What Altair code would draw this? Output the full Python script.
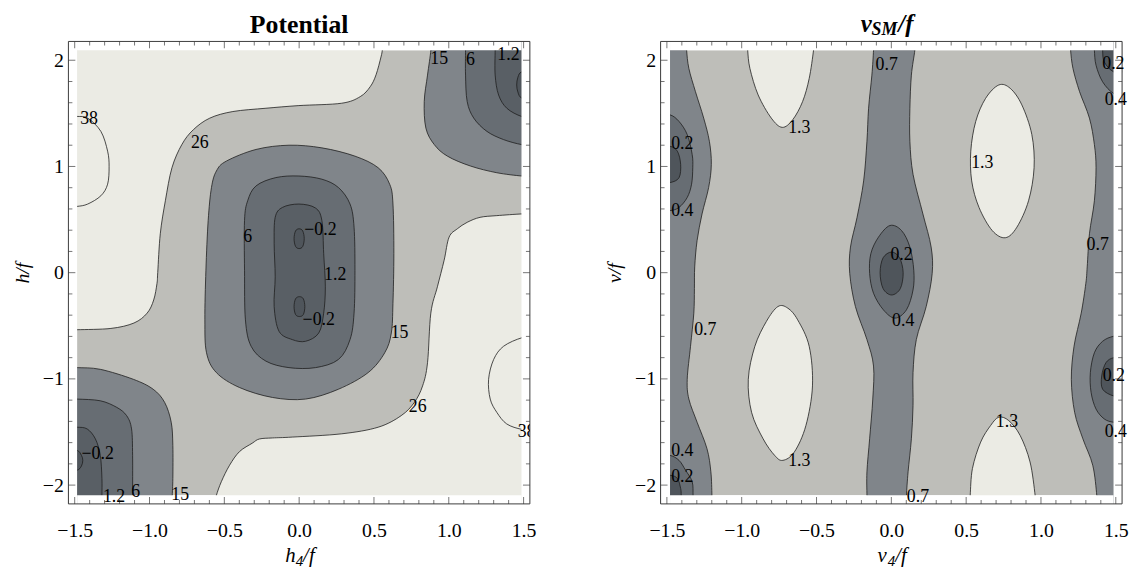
import altair as alt
import pandas as pd

# ---------------- frame / ranges ----------------
W, H = 466, 467
FRAME_X = [-1.542, 1.542]
FRAME_Y = [-2.177, 2.177]
L_COLOR_X = [-1.484, 1.486]
R_COLOR_X = [-1.479, 1.485]
COLOR_Y = [-2.096, 2.094]

X_MAJOR = [-1.5, -1.0, -0.5, 0.0, 0.5, 1.0, 1.5]
X_MINOR = [-1.4, -1.3, -1.2, -1.1, -0.9, -0.8, -0.7, -0.6, -0.4, -0.3, -0.2, -0.1,
           0.1, 0.2, 0.3, 0.4, 0.6, 0.7, 0.8, 0.9, 1.1, 1.2, 1.3, 1.4]
Y_MAJOR = [-2, -1, 0, 1, 2]
Y_MINOR = [-1.8, -1.6, -1.4, -1.2, -0.8, -0.6, -0.4, -0.2,
           0.2, 0.4, 0.6, 0.8, 1.2, 1.4, 1.6, 1.8]

LIGHTEST = "#ebebe4"
LIGHT = "#bebeb9"
MEDIUM = "#80858a"
DARK = "#676d73"
DARKER = "#595f65"
DARKEST = "#4f555b"
LINE = "#1e1e1e"
FRAME_C = "#3c3c3c"
FONT = "Liberation Serif"

# ---------------- Potential panel: contour regions (x = h4/f, y = h/f) ----------------
L_GT26_UL = [(-1.65, -0.54), (-1.56, -0.538), (-1.484, -0.537), (-1.258, -0.525), (-1.104, -0.474),
             (-1.016, -0.381), (-0.972, -0.257), (-0.950, -0.101), (-0.945, 0.002), (-0.928, 0.366),
             (-0.894, 0.677), (-0.850, 0.988), (-0.784, 1.206), (-0.707, 1.346), (-0.597, 1.455),
             (-0.443, 1.517), (-0.222, 1.548), (-0.002, 1.573), (0.283, 1.595), (0.408, 1.657),
             (0.475, 1.751), (0.514, 1.863), (0.547, 2.031), (0.556, 2.094), (0.565, 2.18),
             (0.57, 2.3), (-1.65, 2.3)]
L_GT26_LR = [(1.65, 0.556), (1.56, 0.555), (1.486, 0.553), (1.321, 0.537), (1.209, 0.521),
             (1.123, 0.474), (1.057, 0.413), (1.002, 0.334), (0.969, 0.117), (0.924, -0.133),
             (0.880, -0.381), (0.858, -0.848), (0.825, -1.066), (0.770, -1.221), (0.682, -1.346),
             (0.528, -1.455), (0.285, -1.517), (-0.046, -1.548), (-0.178, -1.556), (-0.266, -1.566),
             (-0.313, -1.605), (-0.399, -1.685), (-0.465, -1.813), (-0.520, -1.968), (-0.553, -2.096),
             (-0.565, -2.18), (-0.57, -2.3), (1.65, -2.3)]
L_C38_UL = [(-1.65, 1.48), (-1.56, 1.475), (-1.484, 1.471), (-1.413, 1.455), (-1.325, 1.330),
            (-1.280, 1.144), (-1.270, 0.997), (-1.280, 0.833), (-1.325, 0.724), (-1.413, 0.646),
            (-1.484, 0.624), (-1.56, 0.62), (-1.65, 0.615)]
L_C38_LR = [(1.65, -0.605), (1.56, -0.61), (1.486, -0.614), (1.366, -0.693), (1.300, -0.817),
            (1.266, -1.004), (1.277, -1.190), (1.321, -1.315), (1.387, -1.424), (1.486, -1.475),
            (1.56, -1.48), (1.65, -1.49)]

L_LE15_C = [(-0.487, 1.050), (-0.288, 1.160), (-0.068, 1.200), (0.152, 1.175), (0.373, 1.097),
            (0.528, 0.988), (0.605, 0.833), (0.627, 0.646), (0.633, 0.179), (0.627, -0.288),
            (0.616, -0.568), (0.572, -0.754), (0.461, -0.941), (0.263, -1.097), (0.043, -1.190),
            (-0.178, -1.175), (-0.399, -1.081), (-0.553, -0.941), (-0.619, -0.754), (-0.630, -0.444),
            (-0.623, 0.023), (-0.608, 0.490), (-0.586, 0.801), (-0.553, 0.957)]
L_LE15_TR = [(0.87, 2.3), (0.875, 2.18), (0.880, 2.094), (0.858, 1.860), (0.836, 1.611),
             (0.847, 1.361), (0.903, 1.206), (0.991, 1.097), (1.145, 1.004), (1.321, 0.941),
             (1.486, 0.910), (1.56, 0.905), (1.65, 0.90), (1.65, 2.3)]
L_LE15_BL = [(-1.65, -0.89), (-1.56, -0.892), (-1.484, -0.894), (-1.329, -0.910), (-1.108, -1.004),
             (-0.976, -1.097), (-0.899, -1.221), (-0.855, -1.408), (-0.844, -1.627), (-0.844, -1.937),
             (-0.848, -2.096), (-0.85, -2.18), (-0.85, -2.3), (-1.65, -2.3)]

L_LE6_C = [(-0.288, 0.817), (-0.156, 0.895), (-0.002, 0.910), (0.152, 0.880), (0.263, 0.801),
           (0.340, 0.646), (0.367, 0.428), (0.373, 0.023), (0.367, -0.381), (0.340, -0.630),
           (0.263, -0.817), (0.109, -0.894), (-0.068, -0.894), (-0.222, -0.833), (-0.321, -0.693),
           (-0.359, -0.444), (-0.365, 0.023), (-0.365, 0.490), (-0.344, 0.677)]
L_LE6_TR = [(1.112, 2.3), (1.112, 2.18), (1.112, 2.094), (1.112, 1.860), (1.123, 1.611),
            (1.167, 1.455), (1.255, 1.330), (1.366, 1.253), (1.486, 1.206), (1.56, 1.2),
            (1.65, 1.195), (1.65, 2.3)]
L_LE6_BL = [(-1.65, -1.185), (-1.56, -1.188), (-1.484, -1.190), (-1.329, -1.206), (-1.219, -1.268),
            (-1.153, -1.346), (-1.120, -1.471), (-1.113, -1.720), (-1.113, -2.096), (-1.113, -2.18),
            (-1.113, -2.3), (-1.65, -2.3)]

L_LE12_C = [(-0.112, 0.614), (-0.002, 0.646), (0.109, 0.609), (0.152, 0.490), (0.164, 0.179),
            (0.175, -0.133), (0.164, -0.381), (0.131, -0.568), (0.043, -0.646), (-0.046, -0.630),
            (-0.134, -0.553), (-0.167, -0.319), (-0.160, -0.039), (-0.167, 0.273), (-0.160, 0.521)]
L_LE12_TR = [(1.31, 2.3), (1.31, 2.18), (1.31, 2.094), (1.310, 1.860), (1.333, 1.673),
             (1.388, 1.548), (1.486, 1.471), (1.56, 1.465), (1.65, 1.46), (1.65, 2.3)]
L_LE12_BL = [(-1.65, -1.45), (-1.56, -1.452), (-1.484, -1.455), (-1.417, -1.471), (-1.362, -1.564),
             (-1.329, -1.720), (-1.318, -1.937), (-1.318, -2.096), (-1.318, -2.18), (-1.318, -2.3),
             (-1.65, -2.3)]

L_LEM02_A = [(0.0, 0.413), (0.024, 0.393), (0.034, 0.32), (0.024, 0.247), (0.0, 0.227),
             (-0.024, 0.247), (-0.034, 0.32), (-0.024, 0.393)]
L_LEM02_B = [(0.002, -0.226), (0.028, -0.246), (0.038, -0.32), (0.028, -0.394), (0.002, -0.413),
             (-0.024, -0.394), (-0.034, -0.32), (-0.024, -0.246)]
L_LEM02_TR = [(1.65, 1.90), (1.56, 1.895), (1.486, 1.89), (1.462, 1.84), (1.454, 1.767),
              (1.462, 1.70), (1.486, 1.645), (1.56, 1.64), (1.65, 1.635)]
L_LEM02_BL = [(-1.65, -1.665), (-1.56, -1.67), (-1.484, -1.673), (-1.455, -1.72), (-1.446, -1.767),
              (-1.455, -1.82), (-1.484, -1.860), (-1.56, -1.865), (-1.65, -1.87)]

L_LABEL_TEXT = ["38", "26", "6", "\u22120.2", "1.2", "\u22120.2", "15", "26", "38",
                "15", "6", "1.2", "\u22120.2", "1.2", "6", "15"]
L_LABEL_X = [-1.404, -0.664, -0.344, 0.142, 0.241, 0.131, 0.671, 0.792, 1.52,
             0.936, 1.145, 1.399, -1.346, -1.237, -1.093, -0.795]
L_LABEL_Y = [1.442, 1.218, 0.334, 0.397, -0.023, -0.444, -0.568, -1.268, -1.501,
             2.015, 2.0, 2.047, -1.704, -2.108, -2.062, -2.093]

# ---------------- v_SM/f panel: contour regions (x = v4/f, y = v/f) ----------------
R_GT13_TOP = [(-0.965, 2.3), (-0.962, 2.18), (-0.960, 2.094), (-0.945, 1.922), (-0.890, 1.673),
              (-0.802, 1.455), (-0.729, 1.368), (-0.659, 1.440), (-0.593, 1.611), (-0.549, 1.828),
              (-0.520, 2.094), (-0.518, 2.18), (-0.515, 2.3)]
R_GT13_MID = [(0.718, 1.767), (0.630, 1.641), (0.564, 1.424), (0.531, 1.144), (0.537, 0.864),
              (0.586, 0.614), (0.674, 0.397), (0.762, 0.329), (0.839, 0.428), (0.917, 0.677),
              (0.954, 0.988), (0.939, 1.300), (0.872, 1.580), (0.795, 1.735)]
R_GT13_LL = [(-0.758, -0.319), (-0.835, -0.459), (-0.912, -0.693), (-0.956, -1.004), (-0.934, -1.315),
             (-0.857, -1.564), (-0.780, -1.720), (-0.725, -1.767), (-0.648, -1.688), (-0.571, -1.440),
             (-0.527, -1.066), (-0.549, -0.693), (-0.626, -0.444), (-0.692, -0.334)]
R_GT13_BOT = [(0.52, -2.3), (0.523, -2.18), (0.527, -2.096), (0.542, -1.844), (0.597, -1.595),
              (0.663, -1.440), (0.718, -1.361), (0.785, -1.393), (0.861, -1.533), (0.927, -1.782),
              (0.961, -2.096), (0.962, -2.18), (0.965, -2.3)]

R_LE07_L = [(-1.368, 2.3), (-1.368, 2.18), (-1.368, 2.094), (-1.353, 1.922), (-1.309, 1.704),
            (-1.254, 1.455), (-1.216, 1.237), (-1.203, 1.020), (-1.221, 0.801), (-1.265, 0.553),
            (-1.298, 0.303), (-1.314, 0.054), (-1.316, -0.15), (-1.320, -0.381), (-1.342, -0.693),
            (-1.364, -1.004), (-1.353, -1.190), (-1.298, -1.408), (-1.232, -1.657), (-1.206, -1.875),
            (-1.199, -2.096), (-1.199, -2.18), (-1.199, -2.3), (-1.65, -2.3), (-1.65, 2.3)]
R_LE07_C = [(-0.119, 2.3), (-0.119, 2.18), (-0.119, 2.094), (-0.130, 1.860), (-0.152, 1.548),
            (-0.163, 1.237), (-0.185, 0.864), (-0.229, 0.521), (-0.273, 0.241), (-0.278, -0.007),
            (-0.240, -0.319), (-0.163, -0.630), (-0.119, -0.879), (-0.124, -1.190), (-0.145, -1.564),
            (-0.163, -1.875), (-0.163, -2.096), (-0.163, -2.18), (-0.163, -2.3), (0.101, -2.3),
            (0.101, -2.18), (0.101, -2.096), (0.112, -1.875), (0.134, -1.564), (0.145, -1.253),
            (0.145, -0.941), (0.167, -0.630), (0.233, -0.319), (0.273, -0.007), (0.266, 0.241),
            (0.211, 0.553), (0.145, 0.926), (0.124, 1.237), (0.124, 1.548), (0.134, 1.860),
            (0.157, 2.094), (0.157, 2.18), (0.157, 2.3)]
R_LE07_R = [(1.198, 2.3), (1.198, 2.18), (1.198, 2.094), (1.214, 1.922), (1.258, 1.704),
            (1.324, 1.455), (1.357, 1.206), (1.368, 0.988), (1.357, 0.677), (1.324, 0.366),
            (1.309, 0.054), (1.300, -0.1), (1.269, -0.381), (1.221, -0.693), (1.203, -1.004),
            (1.225, -1.315), (1.280, -1.564), (1.346, -1.813), (1.373, -2.096), (1.373, -2.18),
            (1.373, -2.3), (1.65, -2.3), (1.65, 2.3)]

R_LE04_L = [(-1.65, 1.49), (-1.56, 1.488), (-1.479, 1.486), (-1.419, 1.424), (-1.364, 1.300),
            (-1.331, 1.113), (-1.327, 0.988), (-1.335, 0.833), (-1.364, 0.708), (-1.419, 0.614),
            (-1.479, 0.584), (-1.56, 0.582), (-1.65, 0.58)]
R_LE04_C = [(-0.009, 0.444), (-0.086, 0.334), (-0.137, 0.179), (-0.145, -0.007), (-0.119, -0.194),
            (-0.053, -0.350), (0.024, -0.428), (0.101, -0.350), (0.145, -0.163), (0.150, 0.023),
            (0.124, 0.241), (0.068, 0.397)]
R_LE04_R = [(1.65, -0.595), (1.56, -0.597), (1.485, -0.599), (1.412, -0.646), (1.357, -0.754),
            (1.330, -0.941), (1.335, -1.128), (1.368, -1.284), (1.423, -1.377), (1.485, -1.408),
            (1.56, -1.41), (1.65, -1.412)]
R_LE04_TR = [(1.357, 2.3), (1.357, 2.18), (1.357, 2.094), (1.368, 1.953), (1.412, 1.797),
             (1.485, 1.688), (1.56, 1.68), (1.65, 1.675), (1.65, 2.3)]
R_LE04_BL = [(-1.65, -1.715), (-1.56, -1.718), (-1.479, -1.720), (-1.419, -1.767), (-1.375, -1.860),
             (-1.331, -1.968), (-1.325, -2.096), (-1.325, -2.18), (-1.325, -2.3), (-1.65, -2.3)]

R_LE02_L = [(-1.65, 1.19), (-1.56, 1.19), (-1.479, 1.190), (-1.430, 1.144), (-1.408, 1.020),
            (-1.419, 0.894), (-1.479, 0.848), (-1.56, 0.848), (-1.65, 0.848)]
R_LE02_C = [(0.002, 0.194), (0.055, 0.14), (0.079, 0.0), (0.06, -0.15), (0.002, -0.21),
            (-0.055, -0.15), (-0.075, 0.0), (-0.055, 0.14)]
R_LE02_R = [(1.65, -0.80), (1.56, -0.80), (1.485, -0.801), (1.434, -0.848), (1.406, -0.973),
            (1.412, -1.097), (1.485, -1.160), (1.56, -1.16), (1.65, -1.16)]
R_LE02_TR = [(1.412, 2.3), (1.412, 2.18), (1.412, 2.094), (1.423, 1.984), (1.485, 1.891),
             (1.56, 1.89), (1.65, 1.89), (1.65, 2.3)]
R_LE02_BL = [(-1.65, -1.905), (-1.56, -1.906), (-1.479, -1.907), (-1.430, -1.937), (-1.408, -2.031),
             (-1.404, -2.096), (-1.404, -2.18), (-1.404, -2.3), (-1.65, -2.3)]

R_LABEL_TEXT = ["0.7", "1.3", "0.2", "0.4", "1.3", "0.2", "0.4", "0.7", "0.2", "0.4",
                "0.7", "1.3", "0.4", "0.2", "1.3", "0.2", "0.4", "0.7"]
R_LABEL_X = [-0.031, -0.615, -1.397, -1.397, 0.608, 1.484, 1.50, 1.379, 0.068, 0.079,
             -1.243, -0.615, -1.397, -1.397, 0.773, 1.487, 1.50, 0.178]
R_LABEL_Y = [1.953, 1.361, 1.212, 0.584, 1.035, 1.968, 1.627, 0.257, 0.163, -0.459,
             -0.537, -1.776, -1.679, -1.922, -1.408, -0.973, -1.501, -2.108]


def poly_df(polys):
    rows = []
    for pid, pts in enumerate(polys):
        for i, (x, y) in enumerate(pts):
            rows.append({"pid": pid, "i": i, "x": x, "y": y})
    return pd.DataFrame(rows)


def text_piece(txt, px, py, size, weight, style, align="left"):
    return (alt.Chart(pd.DataFrame({"t": [txt]}))
            .mark_text(font=FONT, fontSize=size, fontWeight=weight, fontStyle=style,
                       align=align, baseline="alphabetic", color="black")
            .encode(x=alt.value(px), y=alt.value(py), text="t:N"))


def panel(regions, lab_t, lab_x, lab_y, color_x, xvar, ytitle, title_parts, clip_labels):
    xs = alt.Scale(domain=FRAME_X, nice=False, zero=False)
    ys = alt.Scale(domain=FRAME_Y, nice=False, zero=False)
    xax = alt.Axis(values=X_MAJOR, format=".1f", labelExpr="replace(datum.label, '-', '\u2212')",
                   ticks=False, domain=False, grid=False, labelFont=FONT, labelFontSize=20,
                   labelColor="black", labelPadding=17, labelFlush=False, labelOverlap=False,
                   title="")
    yax = alt.Axis(values=Y_MAJOR, format="d", labelExpr="replace(datum.label, '-', '\u2212')",
                   ticks=False, domain=False, grid=False, labelFont=FONT, labelFontSize=20,
                   labelColor="black", labelPadding=5, labelFlush=False, labelOverlap=False,
                   title=ytitle, titleFont=FONT, titleFontStyle="italic", titleFontWeight="normal",
                   titleFontSize=20, titleColor="black", titlePadding=10)
    X = alt.X("x:Q", scale=xs, axis=xax)
    Y = alt.Y("y:Q", scale=ys, axis=yax)

    layers = []
    bg = pd.DataFrame({"x": [color_x[0]], "x2": [color_x[1]], "y": [COLOR_Y[0]], "y2": [COLOR_Y[1]]})
    layers.append(alt.Chart(bg).mark_rect(fill=LIGHT).encode(x=X, x2="x2:Q", y=Y, y2="y2:Q"))

    for shade, polys in regions:
        layers.append(
            alt.Chart(poly_df(polys))
            .mark_line(interpolate="cardinal-closed", fill=shade, stroke=LINE,
                       strokeWidth=0.8, clip=True)
            .encode(x=X, y=Y, detail="pid:N", order="i:Q")
        )

    masks = pd.DataFrame({
        "x": [FRAME_X[0], color_x[1], color_x[0], color_x[0]],
        "x2": [color_x[0], FRAME_X[1], color_x[1], color_x[1]],
        "y": [FRAME_Y[0], FRAME_Y[0], FRAME_Y[0], COLOR_Y[1]],
        "y2": [FRAME_Y[1], FRAME_Y[1], COLOR_Y[0], FRAME_Y[1]],
    })
    layers.append(alt.Chart(masks).mark_rect(fill="white").encode(x=X, x2="x2:Q", y=Y, y2="y2:Q"))

    # frame ticks (inward)
    for vals, ln in ((X_MAJOR, 7), (X_MINOR, 4)):
        d = pd.DataFrame({"x": vals})
        for ypos in (H - ln / 2, ln / 2):
            layers.append(alt.Chart(d).mark_tick(orient="vertical", size=ln, thickness=1, color=FRAME_C)
                          .encode(x=X, y=alt.value(ypos)))
    for vals, ln in ((Y_MAJOR, 7), (Y_MINOR, 4)):
        d = pd.DataFrame({"y": vals})
        for xpos in (ln / 2, W - ln / 2):
            layers.append(alt.Chart(d).mark_tick(orient="horizontal", size=ln, thickness=1, color=FRAME_C)
                          .encode(y=Y, x=alt.value(xpos)))

    fr = pd.DataFrame({"x": [FRAME_X[0]], "x2": [FRAME_X[1]], "y": [FRAME_Y[0]], "y2": [FRAME_Y[1]]})
    layers.append(alt.Chart(fr).mark_rect(fill="transparent", stroke=FRAME_C, strokeWidth=1)
                  .encode(x=X, x2="x2:Q", y=Y, y2="y2:Q"))

    labs = pd.DataFrame({"x": lab_x, "y": lab_y, "t": lab_t})
    if clip_labels:
        tmark = alt.Chart(labs).mark_text(font=FONT, fontSize=18, color="black", clip=True)
    else:
        tmark = alt.Chart(labs).mark_text(font=FONT, fontSize=18, color="black")
    layers.append(tmark.encode(x=X, y=Y, text="t:N"))

    # panel title
    for txt, px, py, size, style in title_parts:
        layers.append(text_piece(txt, px, py, size, "bold", style,
                                 align="center" if style == "normal" else "left"))

    # x-axis title  (x4 / f with subscript 4)
    base_y = H + 59
    layers.append(text_piece(xvar, 219, base_y, 21, "normal", "italic"))
    layers.append(text_piece("4", 229.5, base_y + 4, 15, "normal", "italic"))
    layers.append(text_piece("/f", 237, base_y, 21, "normal", "italic"))

    return alt.layer(*layers).properties(width=W, height=H)


left_regions = [
    (LIGHTEST, [L_GT26_UL, L_GT26_LR]),
    (LIGHTEST, [L_C38_UL, L_C38_LR]),
    (MEDIUM, [L_LE15_C, L_LE15_TR, L_LE15_BL]),
    (DARK, [L_LE6_C, L_LE6_TR, L_LE6_BL]),
    (DARKER, [L_LE12_C, L_LE12_TR, L_LE12_BL]),
    (DARKEST, [L_LEM02_A, L_LEM02_B, L_LEM02_TR, L_LEM02_BL]),
]
right_regions = [
    (LIGHTEST, [R_GT13_TOP, R_GT13_MID, R_GT13_LL, R_GT13_BOT]),
    (MEDIUM, [R_LE07_L, R_LE07_C, R_LE07_R]),
    (DARK, [R_LE04_L, R_LE04_C, R_LE04_R, R_LE04_TR, R_LE04_BL]),
    (DARKEST, [R_LE02_L, R_LE02_C, R_LE02_R, R_LE02_TR, R_LE02_BL]),
]

left = panel(left_regions, L_LABEL_TEXT, L_LABEL_X, L_LABEL_Y, L_COLOR_X,
             "h", "h/f", [("Potential", 233, -9, 26, "normal")], True)
right = panel(right_regions, R_LABEL_TEXT, R_LABEL_X, R_LABEL_Y, R_COLOR_X,
              "v", "v/f",
              [("v", 202, -10, 25, "italic"), ("SM", 213, -6, 18, "italic"), ("/f", 240, -10, 25, "italic")],
              False)

chart = (
    alt.hconcat(left, right, spacing=132, bounds="flush")
    .properties(padding={"left": 4, "top": 1, "right": 0, "bottom": 0})
    .configure_view(strokeWidth=0)
)

chart.save("out.html", embed_options={"renderer": "svg", "actions": False})
